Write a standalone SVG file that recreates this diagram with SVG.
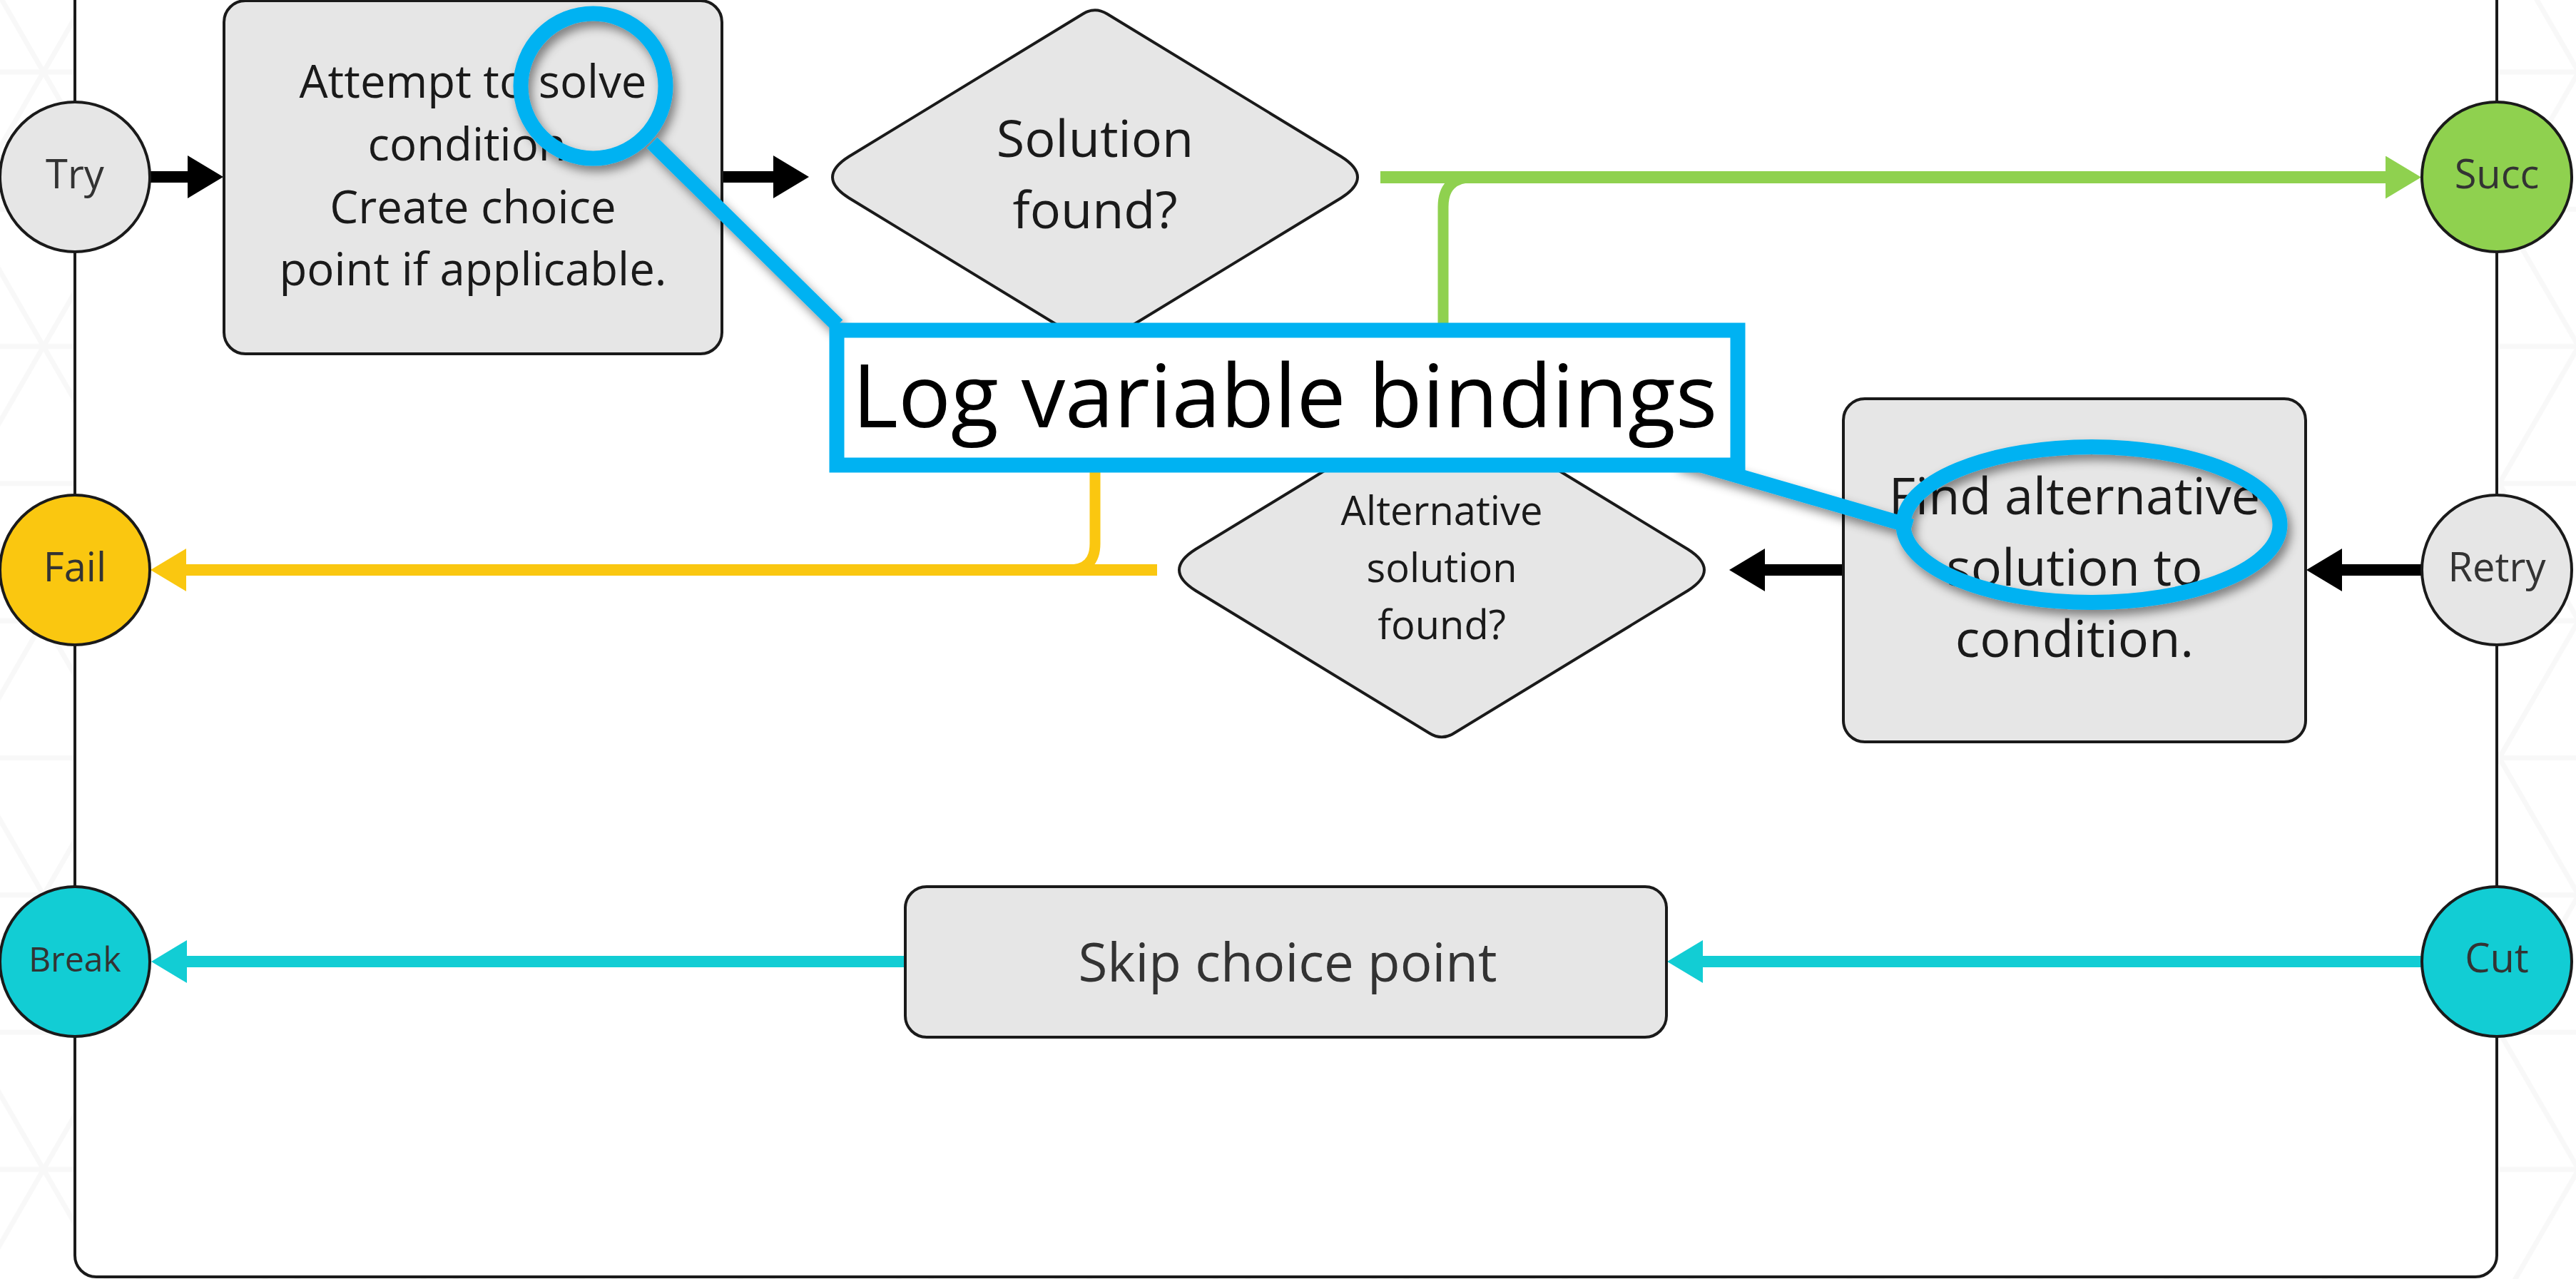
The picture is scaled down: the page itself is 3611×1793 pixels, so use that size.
<svg xmlns="http://www.w3.org/2000/svg" width="3611" height="1793" viewBox="0 0 3611 1793">
<style>
.node{fill:#e6e6e6;stroke:#1a1a1a;stroke-width:4}
.t{font-family:"Open Sans","Noto Sans",sans-serif;text-anchor:middle;fill:#1a1a1a}
.c{fill:#333;font-size:56px}
.big{font-size:72px}
.mid{font-size:63.500px}
.sm{font-size:56px}
.k{fill:none;stroke:#000;stroke-width:16}
.g{fill:none;stroke:#8fd14f;stroke-width:17}
.y{fill:none;stroke:#fac710;stroke-width:16}
.b{fill:none;stroke:#12cdd4;stroke-width:16}
.callout{fill:none;stroke:#00b2f2;stroke-width:21}
</style>
<defs>
<pattern id="bgp" patternUnits="userSpaceOnUse" x="61" y="101" width="222.1" height="384.6">
<g fill="none" stroke="#f8f8f8" stroke-width="7">
<path d="M0 0H222.1M0 192.3H222.1M0 384.6H222.1"/>
<path d="M0 0L111.05 192.3L0 384.6M222.1 0L111.05 192.3L222.1 384.6"/>
</g>
</pattern>
<marker id="hk" markerUnits="userSpaceOnUse" viewBox="0 -30 50 60" markerWidth="50" markerHeight="60" refX="1" refY="0" orient="auto"><path d="M0-30L50 0L0 30Z" fill="#000"/></marker>
<marker id="hg" markerUnits="userSpaceOnUse" viewBox="0 -30 50 60" markerWidth="50" markerHeight="60" refX="1" refY="0" orient="auto"><path d="M0-30L50 0L0 30Z" fill="#8fd14f"/></marker>
<marker id="hy" markerUnits="userSpaceOnUse" viewBox="0 -30 50 60" markerWidth="50" markerHeight="60" refX="1" refY="0" orient="auto"><path d="M0-30L50 0L0 30Z" fill="#fac710"/></marker>
<marker id="hb" markerUnits="userSpaceOnUse" viewBox="0 -30 50 60" markerWidth="50" markerHeight="60" refX="1" refY="0" orient="auto"><path d="M0-30L50 0L0 30Z" fill="#12cdd4"/></marker>
<path id="dia" d="M-345-29Q-391 0-345 29L-17 229Q0 239.500 17 229L345 29Q391 0 345-29L17-229Q0-239.500-17-229Z"/>
<filter id="sh" x="-10%" y="-10%" width="120%" height="130%"><feDropShadow dx="5" dy="8" stdDeviation="7" flood-color="#000" flood-opacity="0.45"/></filter>
</defs>

<rect id="background" width="3611" height="1793" fill="#fff"/>
<rect width="3611" height="1793" fill="url(#bgp)"/>
<rect id="frame" x="105" y="-60" width="3395" height="1850" rx="30" fill="#fff" stroke="#1a1a1a" stroke-width="4"/>

<g id="connectors">
<path class="k" d="M210 248H264" marker-end="url(#hk)"/>
<path class="k" d="M1012 248H1085" marker-end="url(#hk)"/>
<path class="g" d="M2023 565V290Q2023 248.500 2065 248.500" style="stroke-width:15"/>
<path class="g" d="M1935 248.500H3345" marker-end="url(#hg)"/>
<path class="k" d="M3395 799H3282" marker-end="url(#hk)"/>
<path class="k" d="M2584 799H2473" marker-end="url(#hk)"/>
<path class="y" d="M1535 490V762Q1535 799 1498 799" style="stroke-width:15"/>
<path class="y" d="M1622 799H260" marker-end="url(#hy)"/>
<path class="b" d="M3395 1348H2386" marker-end="url(#hb)"/>
<path class="b" d="M1269 1348H261" marker-end="url(#hb)"/>
</g>

<g id="try"><circle class="node" cx="105" cy="248" r="105"/><text class="t c" x="105" y="264">Try</text></g>
<g id="fail"><circle class="node" style="fill:#fac710" cx="105" cy="799" r="105"/><text class="t c" x="105" y="815">Fail</text></g>
<g id="break"><circle class="node" style="fill:#12cdd4" cx="105" cy="1348" r="105"/><text class="t c" style="font-size:48px" x="105" y="1362">Break</text></g>
<g id="succ"><circle class="node" style="fill:#8fd14f" cx="3500" cy="248" r="105"/><text class="t c" x="3500" y="264">Succ</text></g>
<g id="retry"><circle class="node" cx="3500" cy="799" r="105"/><text class="t c" x="3500" y="815">Retry</text></g>
<g id="cut"><circle class="node" style="fill:#12cdd4" cx="3500" cy="1348" r="105"/><text class="t c" x="3500" y="1363">Cut</text></g>

<g id="attempt"><rect class="node" x="314" y="1" width="698" height="495" rx="30"/>
<text class="t mid" x="663" y="137">Attempt to solve</text>
<text class="t mid" x="663" y="225">condition.</text>
<text class="t mid" x="663" y="313">Create choice</text>
<text class="t mid" x="663" y="400">point if applicable.</text></g>
<g id="solution-found"><use href="#dia" class="node" x="1535" y="248.500"/>
<text class="t big" x="1535" y="220">Solution</text>
<text class="t big" x="1535" y="320">found?</text></g>
<g id="alternative-found"><use href="#dia" class="node" x="2021" y="799"/>
<text class="t sm" x="2021" y="736">Alternative</text>
<text class="t sm" x="2021" y="816">solution</text>
<text class="t sm" x="2021" y="896">found?</text></g>
<g id="find-alternative"><rect class="node" x="2584" y="559" width="648" height="481" rx="30"/>
<text class="t big" x="2908" y="721">Find alternative</text>
<text class="t big" x="2908" y="821">solution to</text>
<text class="t big" x="2908" y="921">condition.</text></g>
<g id="skip"><rect class="node" x="1269" y="1243" width="1067" height="211" rx="30"/>
<text class="t big" style="fill:#333;font-size:74.500px" x="1805" y="1376">Skip choice point</text></g>

<g id="annotation">
<g filter="url(#sh)">
<path class="callout" d="M914 200L1174 456"/>
<path class="callout" d="M2350 642L2680 738"/>
<circle class="callout" cx="831.500" cy="120.500" r="101.500"/>
<ellipse class="callout" cx="2932" cy="735.500" rx="264" ry="109"/>
</g>
<rect class="callout" x="1173" y="463" width="1263" height="189" style="fill:#fff"/>
<text class="t" style="font-size:123px;fill:#000" x="1801" y="599">Log variable bindings</text>
</g>
</svg>
